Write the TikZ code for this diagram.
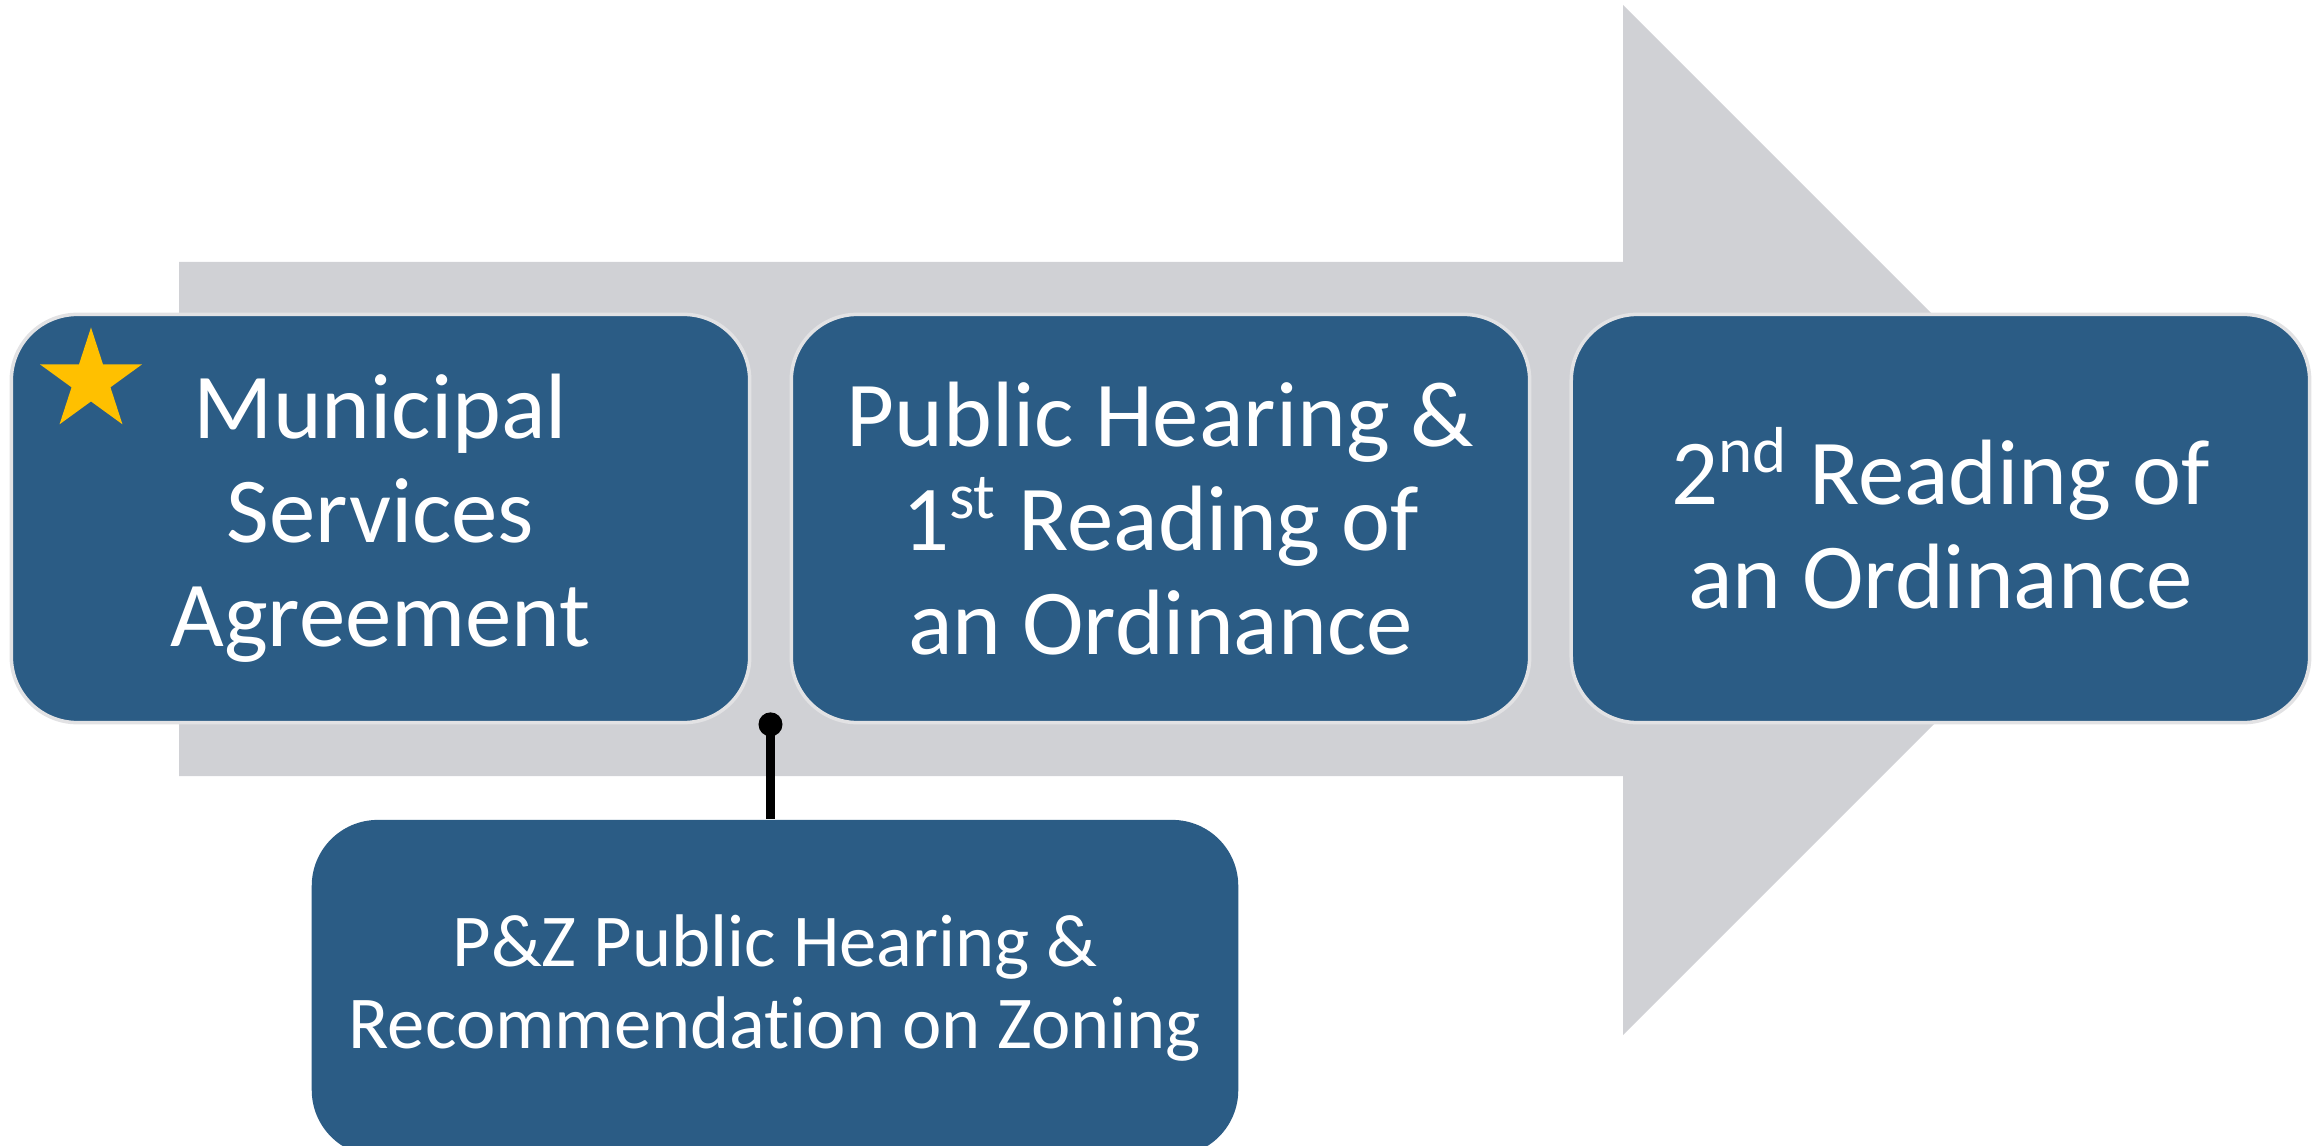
\documentclass[tikz,border=0pt]{standalone}
\usepackage{fontspec}
\setmainfont{Carlito}[Ligatures=NoCommon]
\usetikzlibrary{calc,positioning,shapes.geometric}
\definecolor{stageblue}{RGB}{43,92,133}
\definecolor{stageedge}{RGB}{226,226,228}
\definecolor{arrowgrey}{RGB}{208,209,213}
\definecolor{stargold}{RGB}{255,192,0}
\tikzset{
    stage/.style={
    rectangle,rounded corners=0.66cm,fill=stageblue,draw=stageedge,line width=1pt,
    text=white,align=center,minimum width=7.38cm,minimum height=4.08cm,inner sep=0pt,
    font=\fontsize{26.4}{29.6}\selectfont
    },
    substage/.style={
    rectangle,rounded corners=0.66cm,fill=stageblue,
    text=white,align=center,minimum width=9.26cm,minimum height=3.36cm,inner sep=0pt,
    font=\fontsize{21.2}{23.4}\selectfont
    },
    pin/.style={
    circle,fill=black,inner sep=0pt,minimum size=0.24cm
    },
    starmark/.style={
    star,star points=5,star point ratio=2.618,fill=stargold,inner sep=0pt,minimum size=1.07cm
    },
}
\begin{document}
\begin{tikzpicture}[x=0.01cm,y=-0.01cm, node distance=0.38cm]
   \useasboundingbox (0,0) rectangle (2318,1146);
   \clip (0,0) rectangle (2318,1146);

   %big arrow
   \fill[arrowgrey] (179,262) -- (1623,262) -- (1623,5) -- (2138,520)
        -- (1623,1035) -- (1623,776) -- (179,776) -- cycle;

   %stages
   \node[stage] (msa) at (380.5,518.5) {Municipal\\Services\\Agreement};
   \node[stage,right=of msa] (first) {Public Hearing \&\\1\textsuperscript{st} Reading of\\an Ordinance};
   \node[stage,right=of first] (second) {2\textsuperscript{nd} Reading of\\an Ordinance};
   \node[starmark] (mark) at (91,381) {};

   %zoning
   \node[substage] (zoning) at (775,988) {P\&Z Public Hearing \&\\Recommendation on Zoning};

   %pin
   \coordinate (gap) at ($(msa.south east)!0.5!(first.south west)$);
   \draw[line width=2.3pt] (gap) -- (gap |- zoning.north);
   \node[pin] (dot) at (gap) {};
\end{tikzpicture}
\end{document}
